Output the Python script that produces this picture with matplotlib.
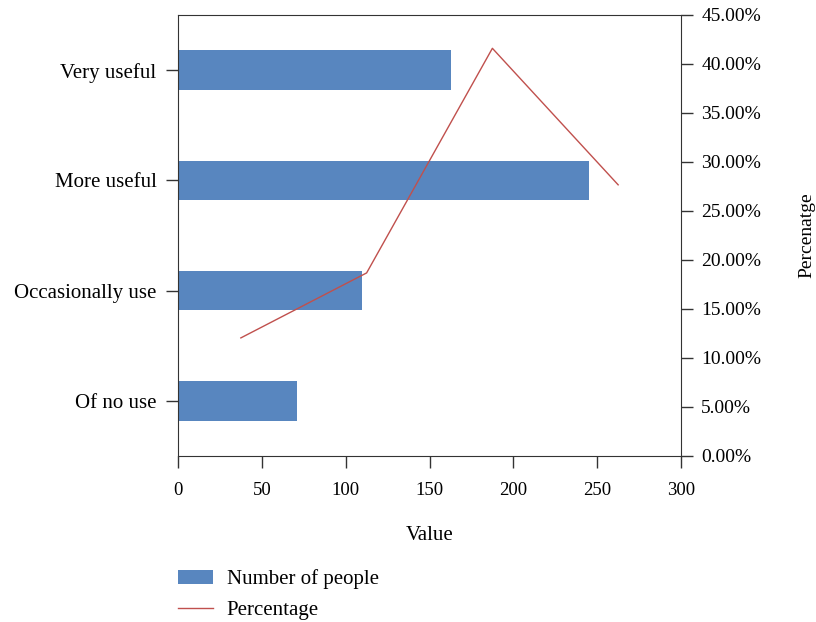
import matplotlib.pyplot as plt
from matplotlib.ticker import PercentFormatter

categories = ["Of no use", "Occasionally use", "More useful", "Very useful"]
people = [71, 110, 245, 163]
percent = [12.05, 18.68, 41.60, 27.67]

bar_color = "#5886BF"
line_color = "#C0504D"

plt.rcParams["font.family"] = ["Liberation Serif", "DejaVu Serif"]
plt.rcParams["font.size"] = 15

fig = plt.figure(figsize=(8.16, 6.22), dpi=100)
rect = [0.2181, 0.2669, 0.6165, 0.709]
ax = fig.add_axes(rect)

# bars on the value axis
bars = ax.barh(range(len(categories)), people, height=0.36, color=bar_color,
               label="Number of people")
ax.set_xlim(0, 300)
ax.set_ylim(-0.5, len(categories) - 0.5)
ax.set_yticks(range(len(categories)))
ax.set_yticklabels(categories)
ax.set_xlabel("Value", labelpad=20)
ax.tick_params(direction="out", length=8.5, width=1, color="#333333")
ax.tick_params(axis="y", labelsize=15, pad=7)
ax.tick_params(axis="x", labelsize=13.5, pad=10)

# percentage line on its own category axis, right-hand scale
ax2 = fig.add_axes(rect, frameon=False)
line, = ax2.plot(range(len(categories)), percent, color=line_color, lw=1,
                 label="Percentage")
ax2.set_xlim(-0.5, len(categories) - 0.5)
ax2.set_ylim(0, 45)
ax2.set_yticks(range(0, 50, 5))
ax2.yaxis.set_major_formatter(PercentFormatter(decimals=2))
ax2.yaxis.tick_right()
ax2.yaxis.set_label_position("right")
ax2.set_xticks([])
ax2.set_ylabel("Percenatge", labelpad=27, fontsize=14)
ax2.tick_params(direction="out", length=8.5, width=1, color="#333333",
                labelsize=14, pad=6)

for s in ax.spines.values():
    s.set_color("#333333")

fig.legend(handles=[bars, line], loc="upper left",
           bbox_to_anchor=(0.195, 0.1146), frameon=False,
           handlelength=1.68, handletextpad=0.67, labelspacing=0.55)

fig.savefig("out.png", dpi=100)
